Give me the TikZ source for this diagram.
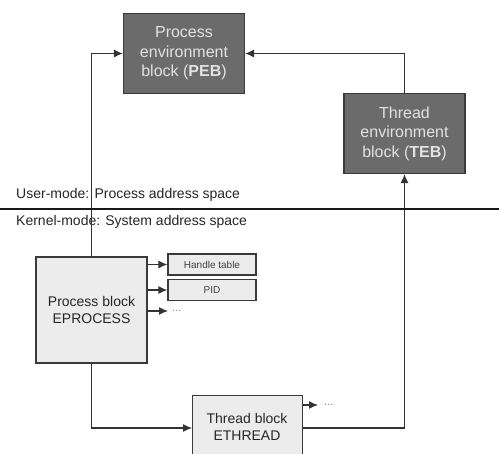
\documentclass[tikz,border=0pt]{standalone}
\usepackage{fontspec}
\setmainfont{Liberation Sans}
\usetikzlibrary{arrows.meta}
\definecolor{darkbox}{HTML}{6B6B6B}
\definecolor{darktext}{HTML}{E2E2E2}
\definecolor{lightbox}{HTML}{ECECEC}
\definecolor{edge}{HTML}{3A3A3A}
\definecolor{linec}{HTML}{333333}
\begin{document}
\begin{tikzpicture}[x=1pt,y=-1pt,
  darkblk/.style={draw=edge,line width=1.2pt,fill=darkbox,text=darktext,inner sep=0pt,
    font=\fontsize{16}{19.5}\selectfont,align=center,minimum width=121pt,minimum height=80pt},
  lightblk/.style={draw=edge,line width=1.2pt,fill=lightbox,text=black!85,inner sep=0pt,
    font=\fontsize{14}{17}\selectfont,align=center},
  smallblk/.style={draw=edge,line width=1.2pt,fill=lightbox,text=black!75,inner sep=0pt,
    font=\fontsize{10}{12}\selectfont,minimum width=88pt,minimum height=21pt},
  conn/.style={draw=linec,line width=1.2pt},
  arr/.style={conn,-{Latex[length=9pt,width=8pt]}},
  dotsty/.style={text=black!45,font=\fontsize{11}{12}\selectfont,inner sep=0pt},
  lbl/.style={font=\fontsize{14}{17}\selectfont,text=black!85,inner sep=0pt,anchor=west}]
\useasboundingbox (0,0) rectangle (499,454);
\clip (0,0) rectangle (499,454);
\fill[white] (0,0) rectangle (499,454);

% boxes
\node[darkblk] (peb) at (184,53.5) {Process\\environment\\block (\textbf{PEB})};
\node[darkblk] (teb) at (404.5,133.5) {Thread\\environment\\block (\textbf{TEB})};
\node[lightblk,minimum width=111pt,minimum height=106pt] (eproc) at (91.5,310) {Process block\\EPROCESS};
\node[smallblk] (ht) at (212,264.5) {Handle table};
\node[smallblk] (pid) at (212,290) {PID};
\coordinate (d1) at (168,311);
\node[dotsty,anchor=west] (dots1) at (172,311) {...};
\node[lightblk,minimum width=110pt,minimum height=80pt,anchor=north west] (ethr) at (192,395) {};
\node[font=\fontsize{14}{17}\selectfont,text=black!85,align=center] (ethrt) at (247,427) {Thread block\\ETHREAD};
\coordinate (d2) at (318,405);
\node[dotsty,anchor=west] (dots2) at (324,405) {...};
\coordinate (ein) at (192,428);

% address space separator
\coordinate (sepL) at (0,209);
\coordinate (sepR) at (499,209);
\node[lbl] (user) at (16,195) {User-mode: Process address space};
\node[lbl] (kern) at (16,222) {Kernel-mode: System address space};

% connectors
\draw[arr] (eproc.north) |- (peb.west);
\draw[arr] (teb.north) |- (peb.east);
\draw[arr] (eproc.south) |- (ein);
\draw[arr] (ethr.east |- ein) -| (teb.south);
\draw[arr] (eproc.east |- ht.west) -- (ht.west);
\draw[arr] (eproc.east |- pid.west) -- (pid.west);
\draw[arr] (eproc.east |- d1) -- (d1);
\draw[arr] (ethr.east |- d2) -- (d2);
\draw[draw=black!90,line width=2pt] (sepL) -- (sepR);
\end{tikzpicture}
\end{document}
